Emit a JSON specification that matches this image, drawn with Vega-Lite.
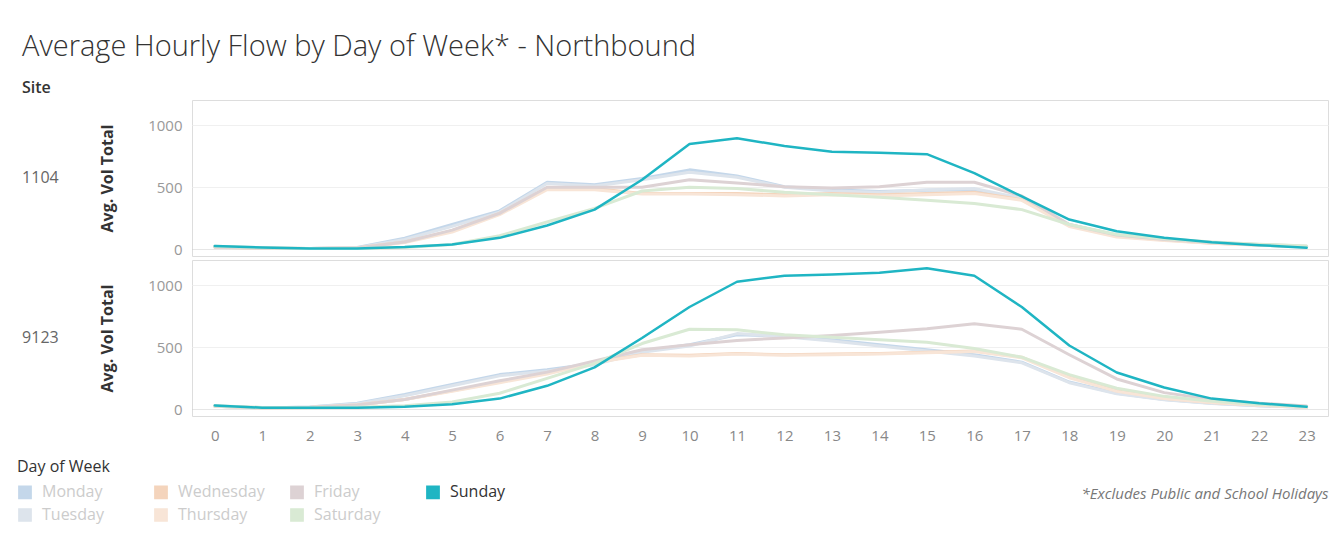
{
"$schema": "https://vega.github.io/schema/vega-lite/v6.json",
"background": "white",
"padding": {"left": 17, "top": 32, "right": 5, "bottom": 5},
"title": {"text": "Average Hourly Flow by Day of Week* - Northbound", "subtitle": "Site", "anchor": "start", "dx": 5, "fontSize": 29, "font": "Open Sans", "fontWeight": 300, "color": "#333", "subtitleFont": "Open Sans", "subtitleFontSize": 16, "subtitleFontWeight": 600, "subtitleColor": "#333", "subtitlePadding": 18, "offset": 4},
"data": {"values": [
{"site":"1104","day":"Monday","hour":0,"vol":20},{"site":"1104","day":"Monday","hour":1,"vol":10},{"site":"1104","day":"Monday","hour":2,"vol":8},{"site":"1104","day":"Monday","hour":3,"vol":15},{"site":"1104","day":"Monday","hour":4,"vol":90},{"site":"1104","day":"Monday","hour":5,"vol":200},{"site":"1104","day":"Monday","hour":6,"vol":310},{"site":"1104","day":"Monday","hour":7,"vol":540},{"site":"1104","day":"Monday","hour":8,"vol":520},{"site":"1104","day":"Monday","hour":9,"vol":570},{"site":"1104","day":"Monday","hour":10,"vol":640},{"site":"1104","day":"Monday","hour":11,"vol":590},{"site":"1104","day":"Monday","hour":12,"vol":505},{"site":"1104","day":"Monday","hour":13,"vol":480},{"site":"1104","day":"Monday","hour":14,"vol":465},{"site":"1104","day":"Monday","hour":15,"vol":475},{"site":"1104","day":"Monday","hour":16,"vol":480},{"site":"1104","day":"Monday","hour":17,"vol":400},{"site":"1104","day":"Monday","hour":18,"vol":200},{"site":"1104","day":"Monday","hour":19,"vol":115},{"site":"1104","day":"Monday","hour":20,"vol":80},{"site":"1104","day":"Monday","hour":21,"vol":55},{"site":"1104","day":"Monday","hour":22,"vol":38},{"site":"1104","day":"Monday","hour":23,"vol":22},
{"site":"1104","day":"Tuesday","hour":0,"vol":18},{"site":"1104","day":"Tuesday","hour":1,"vol":9},{"site":"1104","day":"Tuesday","hour":2,"vol":8},{"site":"1104","day":"Tuesday","hour":3,"vol":14},{"site":"1104","day":"Tuesday","hour":4,"vol":80},{"site":"1104","day":"Tuesday","hour":5,"vol":185},{"site":"1104","day":"Tuesday","hour":6,"vol":300},{"site":"1104","day":"Tuesday","hour":7,"vol":530},{"site":"1104","day":"Tuesday","hour":8,"vol":510},{"site":"1104","day":"Tuesday","hour":9,"vol":560},{"site":"1104","day":"Tuesday","hour":10,"vol":620},{"site":"1104","day":"Tuesday","hour":11,"vol":580},{"site":"1104","day":"Tuesday","hour":12,"vol":500},{"site":"1104","day":"Tuesday","hour":13,"vol":470},{"site":"1104","day":"Tuesday","hour":14,"vol":460},{"site":"1104","day":"Tuesday","hour":15,"vol":480},{"site":"1104","day":"Tuesday","hour":16,"vol":490},{"site":"1104","day":"Tuesday","hour":17,"vol":410},{"site":"1104","day":"Tuesday","hour":18,"vol":195},{"site":"1104","day":"Tuesday","hour":19,"vol":110},{"site":"1104","day":"Tuesday","hour":20,"vol":78},{"site":"1104","day":"Tuesday","hour":21,"vol":52},{"site":"1104","day":"Tuesday","hour":22,"vol":35},{"site":"1104","day":"Tuesday","hour":23,"vol":20},
{"site":"1104","day":"Wednesday","hour":0,"vol":18},{"site":"1104","day":"Wednesday","hour":1,"vol":9},{"site":"1104","day":"Wednesday","hour":2,"vol":7},{"site":"1104","day":"Wednesday","hour":3,"vol":12},{"site":"1104","day":"Wednesday","hour":4,"vol":60},{"site":"1104","day":"Wednesday","hour":5,"vol":150},{"site":"1104","day":"Wednesday","hour":6,"vol":290},{"site":"1104","day":"Wednesday","hour":7,"vol":490},{"site":"1104","day":"Wednesday","hour":8,"vol":490},{"site":"1104","day":"Wednesday","hour":9,"vol":450},{"site":"1104","day":"Wednesday","hour":10,"vol":450},{"site":"1104","day":"Wednesday","hour":11,"vol":450},{"site":"1104","day":"Wednesday","hour":12,"vol":440},{"site":"1104","day":"Wednesday","hour":13,"vol":450},{"site":"1104","day":"Wednesday","hour":14,"vol":440},{"site":"1104","day":"Wednesday","hour":15,"vol":450},{"site":"1104","day":"Wednesday","hour":16,"vol":460},{"site":"1104","day":"Wednesday","hour":17,"vol":400},{"site":"1104","day":"Wednesday","hour":18,"vol":190},{"site":"1104","day":"Wednesday","hour":19,"vol":105},{"site":"1104","day":"Wednesday","hour":20,"vol":75},{"site":"1104","day":"Wednesday","hour":21,"vol":50},{"site":"1104","day":"Wednesday","hour":22,"vol":35},{"site":"1104","day":"Wednesday","hour":23,"vol":22},
{"site":"1104","day":"Thursday","hour":0,"vol":19},{"site":"1104","day":"Thursday","hour":1,"vol":10},{"site":"1104","day":"Thursday","hour":2,"vol":8},{"site":"1104","day":"Thursday","hour":3,"vol":12},{"site":"1104","day":"Thursday","hour":4,"vol":55},{"site":"1104","day":"Thursday","hour":5,"vol":140},{"site":"1104","day":"Thursday","hour":6,"vol":280},{"site":"1104","day":"Thursday","hour":7,"vol":480},{"site":"1104","day":"Thursday","hour":8,"vol":480},{"site":"1104","day":"Thursday","hour":9,"vol":445},{"site":"1104","day":"Thursday","hour":10,"vol":445},{"site":"1104","day":"Thursday","hour":11,"vol":440},{"site":"1104","day":"Thursday","hour":12,"vol":430},{"site":"1104","day":"Thursday","hour":13,"vol":440},{"site":"1104","day":"Thursday","hour":14,"vol":430},{"site":"1104","day":"Thursday","hour":15,"vol":440},{"site":"1104","day":"Thursday","hour":16,"vol":450},{"site":"1104","day":"Thursday","hour":17,"vol":395},{"site":"1104","day":"Thursday","hour":18,"vol":185},{"site":"1104","day":"Thursday","hour":19,"vol":100},{"site":"1104","day":"Thursday","hour":20,"vol":72},{"site":"1104","day":"Thursday","hour":21,"vol":50},{"site":"1104","day":"Thursday","hour":22,"vol":34},{"site":"1104","day":"Thursday","hour":23,"vol":22},
{"site":"1104","day":"Friday","hour":0,"vol":20},{"site":"1104","day":"Friday","hour":1,"vol":10},{"site":"1104","day":"Friday","hour":2,"vol":8},{"site":"1104","day":"Friday","hour":3,"vol":12},{"site":"1104","day":"Friday","hour":4,"vol":60},{"site":"1104","day":"Friday","hour":5,"vol":155},{"site":"1104","day":"Friday","hour":6,"vol":290},{"site":"1104","day":"Friday","hour":7,"vol":500},{"site":"1104","day":"Friday","hour":8,"vol":500},{"site":"1104","day":"Friday","hour":9,"vol":500},{"site":"1104","day":"Friday","hour":10,"vol":560},{"site":"1104","day":"Friday","hour":11,"vol":535},{"site":"1104","day":"Friday","hour":12,"vol":505},{"site":"1104","day":"Friday","hour":13,"vol":495},{"site":"1104","day":"Friday","hour":14,"vol":505},{"site":"1104","day":"Friday","hour":15,"vol":540},{"site":"1104","day":"Friday","hour":16,"vol":540},{"site":"1104","day":"Friday","hour":17,"vol":430},{"site":"1104","day":"Friday","hour":18,"vol":200},{"site":"1104","day":"Friday","hour":19,"vol":115},{"site":"1104","day":"Friday","hour":20,"vol":80},{"site":"1104","day":"Friday","hour":21,"vol":55},{"site":"1104","day":"Friday","hour":22,"vol":40},{"site":"1104","day":"Friday","hour":23,"vol":25},
{"site":"1104","day":"Saturday","hour":0,"vol":25},{"site":"1104","day":"Saturday","hour":1,"vol":14},{"site":"1104","day":"Saturday","hour":2,"vol":8},{"site":"1104","day":"Saturday","hour":3,"vol":8},{"site":"1104","day":"Saturday","hour":4,"vol":15},{"site":"1104","day":"Saturday","hour":5,"vol":40},{"site":"1104","day":"Saturday","hour":6,"vol":110},{"site":"1104","day":"Saturday","hour":7,"vol":220},{"site":"1104","day":"Saturday","hour":8,"vol":330},{"site":"1104","day":"Saturday","hour":9,"vol":470},{"site":"1104","day":"Saturday","hour":10,"vol":500},{"site":"1104","day":"Saturday","hour":11,"vol":490},{"site":"1104","day":"Saturday","hour":12,"vol":460},{"site":"1104","day":"Saturday","hour":13,"vol":440},{"site":"1104","day":"Saturday","hour":14,"vol":420},{"site":"1104","day":"Saturday","hour":15,"vol":395},{"site":"1104","day":"Saturday","hour":16,"vol":370},{"site":"1104","day":"Saturday","hour":17,"vol":320},{"site":"1104","day":"Saturday","hour":18,"vol":200},{"site":"1104","day":"Saturday","hour":19,"vol":120},{"site":"1104","day":"Saturday","hour":20,"vol":85},{"site":"1104","day":"Saturday","hour":21,"vol":60},{"site":"1104","day":"Saturday","hour":22,"vol":42},{"site":"1104","day":"Saturday","hour":23,"vol":28},
{"site":"9123","day":"Monday","hour":0,"vol":25},{"site":"9123","day":"Monday","hour":1,"vol":12},{"site":"9123","day":"Monday","hour":2,"vol":20},{"site":"9123","day":"Monday","hour":3,"vol":50},{"site":"9123","day":"Monday","hour":4,"vol":120},{"site":"9123","day":"Monday","hour":5,"vol":200},{"site":"9123","day":"Monday","hour":6,"vol":280},{"site":"9123","day":"Monday","hour":7,"vol":320},{"site":"9123","day":"Monday","hour":8,"vol":370},{"site":"9123","day":"Monday","hour":9,"vol":470},{"site":"9123","day":"Monday","hour":10,"vol":520},{"site":"9123","day":"Monday","hour":11,"vol":600},{"site":"9123","day":"Monday","hour":12,"vol":590},{"site":"9123","day":"Monday","hour":13,"vol":560},{"site":"9123","day":"Monday","hour":14,"vol":520},{"site":"9123","day":"Monday","hour":15,"vol":480},{"site":"9123","day":"Monday","hour":16,"vol":440},{"site":"9123","day":"Monday","hour":17,"vol":380},{"site":"9123","day":"Monday","hour":18,"vol":220},{"site":"9123","day":"Monday","hour":19,"vol":130},{"site":"9123","day":"Monday","hour":20,"vol":80},{"site":"9123","day":"Monday","hour":21,"vol":50},{"site":"9123","day":"Monday","hour":22,"vol":30},{"site":"9123","day":"Monday","hour":23,"vol":15},
{"site":"9123","day":"Tuesday","hour":0,"vol":25},{"site":"9123","day":"Tuesday","hour":1,"vol":12},{"site":"9123","day":"Tuesday","hour":2,"vol":20},{"site":"9123","day":"Tuesday","hour":3,"vol":45},{"site":"9123","day":"Tuesday","hour":4,"vol":110},{"site":"9123","day":"Tuesday","hour":5,"vol":190},{"site":"9123","day":"Tuesday","hour":6,"vol":270},{"site":"9123","day":"Tuesday","hour":7,"vol":310},{"site":"9123","day":"Tuesday","hour":8,"vol":360},{"site":"9123","day":"Tuesday","hour":9,"vol":460},{"site":"9123","day":"Tuesday","hour":10,"vol":510},{"site":"9123","day":"Tuesday","hour":11,"vol":610},{"site":"9123","day":"Tuesday","hour":12,"vol":585},{"site":"9123","day":"Tuesday","hour":13,"vol":550},{"site":"9123","day":"Tuesday","hour":14,"vol":510},{"site":"9123","day":"Tuesday","hour":15,"vol":470},{"site":"9123","day":"Tuesday","hour":16,"vol":430},{"site":"9123","day":"Tuesday","hour":17,"vol":375},{"site":"9123","day":"Tuesday","hour":18,"vol":215},{"site":"9123","day":"Tuesday","hour":19,"vol":125},{"site":"9123","day":"Tuesday","hour":20,"vol":78},{"site":"9123","day":"Tuesday","hour":21,"vol":48},{"site":"9123","day":"Tuesday","hour":22,"vol":30},{"site":"9123","day":"Tuesday","hour":23,"vol":15},
{"site":"9123","day":"Wednesday","hour":0,"vol":25},{"site":"9123","day":"Wednesday","hour":1,"vol":12},{"site":"9123","day":"Wednesday","hour":2,"vol":15},{"site":"9123","day":"Wednesday","hour":3,"vol":35},{"site":"9123","day":"Wednesday","hour":4,"vol":80},{"site":"9123","day":"Wednesday","hour":5,"vol":150},{"site":"9123","day":"Wednesday","hour":6,"vol":220},{"site":"9123","day":"Wednesday","hour":7,"vol":290},{"site":"9123","day":"Wednesday","hour":8,"vol":380},{"site":"9123","day":"Wednesday","hour":9,"vol":440},{"site":"9123","day":"Wednesday","hour":10,"vol":435},{"site":"9123","day":"Wednesday","hour":11,"vol":450},{"site":"9123","day":"Wednesday","hour":12,"vol":440},{"site":"9123","day":"Wednesday","hour":13,"vol":445},{"site":"9123","day":"Wednesday","hour":14,"vol":450},{"site":"9123","day":"Wednesday","hour":15,"vol":460},{"site":"9123","day":"Wednesday","hour":16,"vol":470},{"site":"9123","day":"Wednesday","hour":17,"vol":420},{"site":"9123","day":"Wednesday","hour":18,"vol":260},{"site":"9123","day":"Wednesday","hour":19,"vol":150},{"site":"9123","day":"Wednesday","hour":20,"vol":90},{"site":"9123","day":"Wednesday","hour":21,"vol":55},{"site":"9123","day":"Wednesday","hour":22,"vol":35},{"site":"9123","day":"Wednesday","hour":23,"vol":18},
{"site":"9123","day":"Thursday","hour":0,"vol":25},{"site":"9123","day":"Thursday","hour":1,"vol":12},{"site":"9123","day":"Thursday","hour":2,"vol":15},{"site":"9123","day":"Thursday","hour":3,"vol":35},{"site":"9123","day":"Thursday","hour":4,"vol":80},{"site":"9123","day":"Thursday","hour":5,"vol":145},{"site":"9123","day":"Thursday","hour":6,"vol":215},{"site":"9123","day":"Thursday","hour":7,"vol":285},{"site":"9123","day":"Thursday","hour":8,"vol":375},{"site":"9123","day":"Thursday","hour":9,"vol":435},{"site":"9123","day":"Thursday","hour":10,"vol":430},{"site":"9123","day":"Thursday","hour":11,"vol":445},{"site":"9123","day":"Thursday","hour":12,"vol":435},{"site":"9123","day":"Thursday","hour":13,"vol":440},{"site":"9123","day":"Thursday","hour":14,"vol":445},{"site":"9123","day":"Thursday","hour":15,"vol":455},{"site":"9123","day":"Thursday","hour":16,"vol":465},{"site":"9123","day":"Thursday","hour":17,"vol":415},{"site":"9123","day":"Thursday","hour":18,"vol":255},{"site":"9123","day":"Thursday","hour":19,"vol":145},{"site":"9123","day":"Thursday","hour":20,"vol":88},{"site":"9123","day":"Thursday","hour":21,"vol":55},{"site":"9123","day":"Thursday","hour":22,"vol":34},{"site":"9123","day":"Thursday","hour":23,"vol":18},
{"site":"9123","day":"Friday","hour":0,"vol":28},{"site":"9123","day":"Friday","hour":1,"vol":14},{"site":"9123","day":"Friday","hour":2,"vol":15},{"site":"9123","day":"Friday","hour":3,"vol":35},{"site":"9123","day":"Friday","hour":4,"vol":80},{"site":"9123","day":"Friday","hour":5,"vol":155},{"site":"9123","day":"Friday","hour":6,"vol":230},{"site":"9123","day":"Friday","hour":7,"vol":300},{"site":"9123","day":"Friday","hour":8,"vol":390},{"site":"9123","day":"Friday","hour":9,"vol":480},{"site":"9123","day":"Friday","hour":10,"vol":520},{"site":"9123","day":"Friday","hour":11,"vol":555},{"site":"9123","day":"Friday","hour":12,"vol":575},{"site":"9123","day":"Friday","hour":13,"vol":595},{"site":"9123","day":"Friday","hour":14,"vol":620},{"site":"9123","day":"Friday","hour":15,"vol":648},{"site":"9123","day":"Friday","hour":16,"vol":690},{"site":"9123","day":"Friday","hour":17,"vol":645},{"site":"9123","day":"Friday","hour":18,"vol":440},{"site":"9123","day":"Friday","hour":19,"vol":245},{"site":"9123","day":"Friday","hour":20,"vol":135},{"site":"9123","day":"Friday","hour":21,"vol":80},{"site":"9123","day":"Friday","hour":22,"vol":50},{"site":"9123","day":"Friday","hour":23,"vol":28},
{"site":"9123","day":"Saturday","hour":0,"vol":30},{"site":"9123","day":"Saturday","hour":1,"vol":16},{"site":"9123","day":"Saturday","hour":2,"vol":14},{"site":"9123","day":"Saturday","hour":3,"vol":18},{"site":"9123","day":"Saturday","hour":4,"vol":30},{"site":"9123","day":"Saturday","hour":5,"vol":60},{"site":"9123","day":"Saturday","hour":6,"vol":130},{"site":"9123","day":"Saturday","hour":7,"vol":250},{"site":"9123","day":"Saturday","hour":8,"vol":370},{"site":"9123","day":"Saturday","hour":9,"vol":530},{"site":"9123","day":"Saturday","hour":10,"vol":645},{"site":"9123","day":"Saturday","hour":11,"vol":640},{"site":"9123","day":"Saturday","hour":12,"vol":600},{"site":"9123","day":"Saturday","hour":13,"vol":580},{"site":"9123","day":"Saturday","hour":14,"vol":560},{"site":"9123","day":"Saturday","hour":15,"vol":540},{"site":"9123","day":"Saturday","hour":16,"vol":490},{"site":"9123","day":"Saturday","hour":17,"vol":420},{"site":"9123","day":"Saturday","hour":18,"vol":280},{"site":"9123","day":"Saturday","hour":19,"vol":170},{"site":"9123","day":"Saturday","hour":20,"vol":105},{"site":"9123","day":"Saturday","hour":21,"vol":65},{"site":"9123","day":"Saturday","hour":22,"vol":40},{"site":"9123","day":"Saturday","hour":23,"vol":22},
{"site":"1104","day":"Sunday","hour":0,"vol":27},{"site":"1104","day":"Sunday","hour":1,"vol":16},{"site":"1104","day":"Sunday","hour":2,"vol":8},{"site":"1104","day":"Sunday","hour":3,"vol":8},{"site":"1104","day":"Sunday","hour":4,"vol":19},{"site":"1104","day":"Sunday","hour":5,"vol":40},{"site":"1104","day":"Sunday","hour":6,"vol":93},{"site":"1104","day":"Sunday","hour":7,"vol":192},{"site":"1104","day":"Sunday","hour":8,"vol":320},{"site":"1104","day":"Sunday","hour":9,"vol":560},{"site":"1104","day":"Sunday","hour":10,"vol":848},{"site":"1104","day":"Sunday","hour":11,"vol":894},{"site":"1104","day":"Sunday","hour":12,"vol":832},{"site":"1104","day":"Sunday","hour":13,"vol":786},{"site":"1104","day":"Sunday","hour":14,"vol":778},{"site":"1104","day":"Sunday","hour":15,"vol":766},{"site":"1104","day":"Sunday","hour":16,"vol":614},{"site":"1104","day":"Sunday","hour":17,"vol":426},{"site":"1104","day":"Sunday","hour":18,"vol":240},{"site":"1104","day":"Sunday","hour":19,"vol":146},{"site":"1104","day":"Sunday","hour":20,"vol":94},{"site":"1104","day":"Sunday","hour":21,"vol":58},{"site":"1104","day":"Sunday","hour":22,"vol":34},{"site":"1104","day":"Sunday","hour":23,"vol":14},
{"site":"9123","day":"Sunday","hour":0,"vol":32},{"site":"9123","day":"Sunday","hour":1,"vol":14},{"site":"9123","day":"Sunday","hour":2,"vol":14},{"site":"9123","day":"Sunday","hour":3,"vol":14},{"site":"9123","day":"Sunday","hour":4,"vol":22},{"site":"9123","day":"Sunday","hour":5,"vol":41},{"site":"9123","day":"Sunday","hour":6,"vol":87},{"site":"9123","day":"Sunday","hour":7,"vol":190},{"site":"9123","day":"Sunday","hour":8,"vol":338},{"site":"9123","day":"Sunday","hour":9,"vol":575},{"site":"9123","day":"Sunday","hour":10,"vol":824},{"site":"9123","day":"Sunday","hour":11,"vol":1027},{"site":"9123","day":"Sunday","hour":12,"vol":1075},{"site":"9123","day":"Sunday","hour":13,"vol":1086},{"site":"9123","day":"Sunday","hour":14,"vol":1100},{"site":"9123","day":"Sunday","hour":15,"vol":1135},{"site":"9123","day":"Sunday","hour":16,"vol":1075},{"site":"9123","day":"Sunday","hour":17,"vol":824},{"site":"9123","day":"Sunday","hour":18,"vol":514},{"site":"9123","day":"Sunday","hour":19,"vol":297},{"site":"9123","day":"Sunday","hour":20,"vol":176},{"site":"9123","day":"Sunday","hour":21,"vol":87},{"site":"9123","day":"Sunday","hour":22,"vol":49},{"site":"9123","day":"Sunday","hour":23,"vol":22}
]},
"facet": {"row": {"field": "site", "type": "nominal", "header": {"title": null, "labelAngle": 0, "labelOrient": "left", "labelAlign": "left", "labelFontSize": 16, "labelColor": "#666", "labelFont": "Open Sans", "labelPadding": 41}}},
"spacing": 2,
"spec": {
  "width": 1136,
  "height": 156,
  "mark": {"type": "line", "interpolate": "linear", "strokeCap": "round", "strokeJoin": "round"},
  "encoding": {
    "x": {"field": "hour", "type": "quantitative", "scale": {"domain": [-0.48, 23.45], "nice": false, "zero": false},
      "axis": {"values": [0,1,2,3,4,5,6,7,8,9,10,11,12,13,14,15,16,17,18,19,20,21,22,23], "format": "d", "grid": false, "ticks": false, "domain": false, "labelFontSize": 15, "labelColor": "#888", "labelFont": "Open Sans", "labelPadding": 11,
        "title": "*Excludes Public and School Holidays", "titleAnchor": "end", "titleFontStyle": "italic", "titleFontWeight": "normal", "titleFontSize": 15, "titleColor": "#777", "titleFont": "Open Sans", "titlePadding": 43}},
    "y": {"field": "vol", "type": "quantitative", "scale": {"domain": [-53, 1202], "nice": false, "zero": false},
      "axis": {"title": "Avg. Vol Total", "values": [0, 500, 1000], "format": "d", "titleFontSize": 16, "titleFontWeight": "bold", "titleColor": "#333", "titleFont": "Open Sans", "labelFontSize": 15, "labelColor": "#999", "labelFont": "Open Sans", "ticks": false, "domain": false, "labelPadding": 9, "titlePadding": 32,
        "gridColor": {"condition": {"test": "datum.value === 0", "value": "#cccccc"}, "value": "#f0f0f0"},
        "gridDash": {"condition": {"test": "datum.value === 0", "value": [1, 1]}, "value": []}}},
    "color": {"field": "day", "type": "nominal", "title": "Day of Week",
      "scale": {"domain": ["Monday", "Wednesday", "Friday", "Sunday", "Tuesday", "Thursday", "Saturday"], "range": ["#c4d7ea", "#f4d4bc", "#ddd2d4", "#1fb5c3", "#dde4ec", "#f8e5d7", "#d9ead4"]},
      "legend": {"orient": "none", "legendX": -175, "legendY": 359, "columns": 4, "direction": "horizontal", "gridAlign": "all", "symbolType": "square", "symbolSize": 150, "labelFontSize": 16, "labelFont": "Open Sans", "titleFontSize": 16, "titleFont": "Open Sans", "titleFontWeight": 500, "titleColor": "#333", "titlePadding": 9, "columnPadding": 22, "rowPadding": 3, "labelOffset": 9,
        "encode": {"labels": {"update": {"fill": {"signal": "datum.label === 'Sunday' ? '#333333' : '#cccccc'"}}}, "symbols": {"update": {"fill": {"scale": "color", "field": "value"}, "stroke": {"value": "transparent"}, "opacity": {"value": 1}}}}}},
    "strokeWidth": {"condition": {"test": "datum.day === 'Sunday'", "value": 2.5}, "value": 3}
  }
},
"config": {"view": {"stroke": "#dddddd"}}
}
